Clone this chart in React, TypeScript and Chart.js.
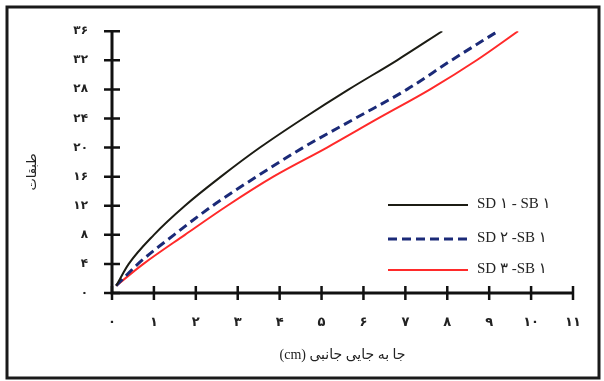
import React, { useEffect, useRef } from "react";
import { Chart, registerables } from "chart.js";

Chart.register(...registerables);

const seriesLabels = ["SD ۱ - SB ۱", "SD ۲ -SB ۱", "SD ۳ -SB ۱"];
const storyLevels = [1, 4, 8, 12, 16, 20, 24, 28, 32, 36];
const driftSD1 = [0.1, 0.4, 1.0, 1.74, 2.6, 3.53, 4.56, 5.65, 6.8, 7.88];
const driftSD2 = [0.1, 0.62, 1.48, 2.4, 3.45, 4.56, 5.8, 7.04, 8.1, 9.21];
const driftSD3 = [0.1, 0.75, 1.74, 2.75, 3.85, 5.13, 6.35, 7.59, 8.7, 9.69];
const xTickLabels = ["۰", "۱", "۲", "۳", "۴", "۵", "۶", "۷", "۸", "۹", "۱۰", "۱۱"];
const yTickLabels = ["۰", "۴", "۸", "۱۲", "۱۶", "۲۰", "۲۴", "۲۸", "۳۲", "۳۶"];
const xTitle = "جا به جایی جانبی (cm)";
const yTitle = "طبقات";

const SERIF = "'Liberation Serif', 'DejaVu Sans', serif";

const toPoints = (xs: number[]) => xs.map((x, i) => ({ x, y: storyLevels[i] }));

const decorPlugin = {
  id: "decor",
  afterDraw(chart: any) {
    const ctx = chart.ctx;
    const xs = chart.scales.x;
    const ys = chart.scales.y;
    const x0 = xs.getPixelForValue(0);
    const y0 = ys.getPixelForValue(0);
    ctx.save();
    // outer frame
    ctx.strokeStyle = "#1a1a1a";
    ctx.lineWidth = 3;
    ctx.strokeRect(7, 7, 592, 371);
    // axes
    ctx.strokeStyle = "#111";
    ctx.lineWidth = 3;
    ctx.beginPath();
    ctx.moveTo(x0, ys.getPixelForValue(36));
    ctx.lineTo(x0, y0);
    ctx.lineTo(xs.getPixelForValue(11), y0);
    ctx.stroke();
    ctx.lineWidth = 2.5;
    ctx.beginPath();
    for (let v = 0; v <= 36; v += 4) {
      const p = ys.getPixelForValue(v);
      ctx.moveTo(x0 - 8, p);
      ctx.lineTo(x0 + 8, p);
    }
    for (let v = 0; v <= 11; v += 1) {
      const p = xs.getPixelForValue(v);
      ctx.moveTo(p, y0 - 7);
      ctx.lineTo(p, y0 + 7);
    }
    ctx.stroke();
    // x title (right-to-left)
    ctx.fillStyle = "#222";
    ctx.font = `14px ${SERIF}`;
    ctx.direction = "rtl";
    ctx.textAlign = "center";
    ctx.textBaseline = "middle";
    ctx.fillText(xTitle, (xs.left + xs.right) / 2, 355);
    // y title
    ctx.font = `13px ${SERIF}`;
    ctx.translate(33, 172);
    ctx.rotate(-Math.PI / 2);
    ctx.fillText(yTitle, 0, 0);
    ctx.restore();

    // legend
    ctx.save();
    const rows = [205, 239, 270];
    chart.data.datasets.forEach((ds: any, i: number) => {
      const y = rows[i];
      ctx.strokeStyle = ds.borderColor;
      ctx.lineWidth = ds.borderWidth;
      ctx.setLineDash(ds.borderDash || []);
      ctx.beginPath();
      ctx.moveTo(388, y);
      ctx.lineTo(468, y);
      ctx.stroke();
      ctx.setLineDash([]);
      ctx.fillStyle = "#222";
      ctx.font = `15px ${SERIF}`;
      ctx.textAlign = "left";
      ctx.textBaseline = "middle";
      ctx.fillText(ds.label, 477, y - 1);
    });
    ctx.restore();
  },
};

export default function App() {
  const ref = useRef<HTMLCanvasElement>(null);
  useEffect(() => {
    document.body.style.margin = "0";
    const chart = new Chart(ref.current!, {
      type: "line",
      data: {
        datasets: [
          {
            label: seriesLabels[0],
            data: toPoints(driftSD1),
            borderColor: "#1c1c14",
            borderWidth: 2,
            pointRadius: 0,
            cubicInterpolationMode: "monotone",
          },
          {
            label: seriesLabels[1],
            data: toPoints(driftSD2),
            borderColor: "#1b2a78",
            borderWidth: 3,
            borderDash: [9, 5],
            pointRadius: 0,
            cubicInterpolationMode: "monotone",
          },
          {
            label: seriesLabels[2],
            data: toPoints(driftSD3),
            borderColor: "#ff2a2a",
            borderWidth: 2,
            pointRadius: 0,
            cubicInterpolationMode: "monotone",
          },
        ],
      },
      options: {
        responsive: false,
        animation: false,
        layout: { padding: { left: 0, top: 21, right: 31, bottom: 0 } },
        plugins: { legend: { display: false }, tooltip: { enabled: false } },
        scales: {
          x: {
            type: "linear",
            min: 0,
            max: 11,
            border: { display: false },
            grid: { display: false, drawTicks: false },
            ticks: {
              stepSize: 1,
              padding: 22,
              color: "#222",
              font: { size: 13, weight: "bold", family: SERIF },
              callback: (v: any) => xTickLabels[Math.round(Number(v))] ?? "",
            },
            afterFit: (s: any) => {
              s.height = 381 - 293;
            },
          },
          y: {
            type: "linear",
            min: 0,
            max: 36,
            border: { display: false },
            grid: { display: false, drawTicks: false },
            ticks: {
              stepSize: 4,
              padding: 24,
              color: "#222",
              font: { size: 12, weight: "bold", family: SERIF },
              callback: (v: any) => yTickLabels[Math.round(Number(v) / 4)] ?? "",
            },
            afterFit: (s: any) => {
              s.width = 112;
            },
          },
        },
      },
      plugins: [decorPlugin],
    } as any);
    return () => chart.destroy();
  }, []);
  return (
    <div style={{ width: 604, height: 381, background: "#fff" }}>
      <canvas ref={ref} width={604} height={381} />
    </div>
  );
}
